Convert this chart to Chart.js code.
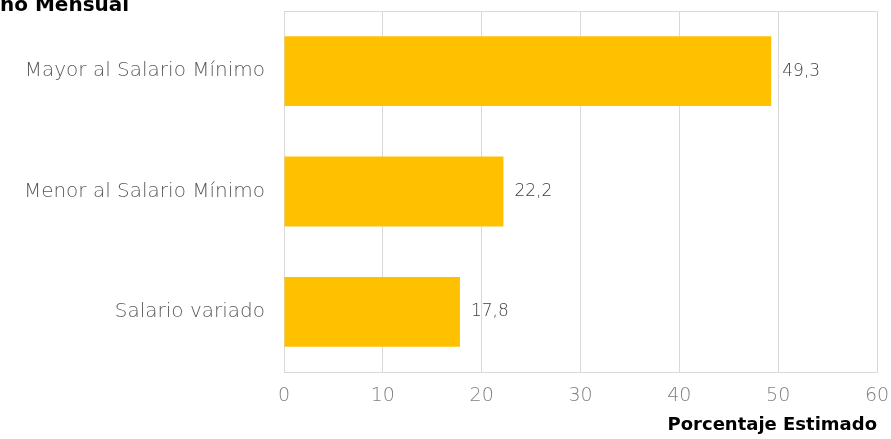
<!DOCTYPE html>
<html>
<head>
<meta charset="utf-8">
<script src="https://cdn.jsdelivr.net/npm/chart.js@4"></script>
<style>
  html, body { margin: 0; padding: 0; background: #fff; }
  #wrap { position: relative; width: 891px; height: 439px; overflow: hidden; }
  #grafico { display: block; }
  #titulo {
    position: absolute; left: 0; top: -8px; white-space: nowrap;
    font-family: "DejaVu Sans", sans-serif; font-weight: 700; font-size: 20px; color: #000;
  }
</style>
</head>
<body>
<div id="wrap">
  <canvas id="grafico" width="891" height="439"></canvas>
  <div id="titulo">no Mensual</div>
</div>
<script>
const categorias = ["Mayor al Salario Mínimo", "Menor al Salario Mínimo", "Salario variado"];
const porcentajes = [49.3, 22.2, 17.8];
const etiquetasX = [0, 10, 20, 30, 40, 50, 60];

const fuenteLigera = "'DejaVu Sans', sans-serif";

// etiquetas de valor al final de cada barra
const valoresPlugin = {
  id: "valores",
  afterDatasetsDraw(chart) {
    const ctx = chart.ctx;
    const meta = chart.getDatasetMeta(0);
    ctx.save();
    ctx.font = "200 17px " + fuenteLigera;
    ctx.fillStyle = "#404040";
    ctx.textAlign = "left";
    ctx.textBaseline = "middle";
    meta.data.forEach((bar, i) => {
      ctx.fillText(porcentajes[i].toFixed(1).replace(".", ","), bar.x + 11, bar.y);
    });
    ctx.restore();
  }
};

// marco gris del área de trazado
const marcoPlugin = {
  id: "marco",
  beforeDatasetsDraw(chart) {
    const a = chart.chartArea;
    const ctx = chart.ctx;
    ctx.save();
    ctx.strokeStyle = "#d9d9d9";
    ctx.lineWidth = 1;
    ctx.strokeRect(Math.round(a.left) + 0.5, Math.round(a.top) + 0.5, Math.round(a.right - a.left), Math.round(a.bottom - a.top));
    ctx.restore();
  }
};

new Chart(document.getElementById("grafico"), {
  type: "bar",
  data: {
    labels: categorias,
    datasets: [{
      data: porcentajes,
      backgroundColor: "#FFC000",
      borderWidth: 0,
      barPercentage: 0.58,
      categoryPercentage: 1
    }]
  },
  options: {
    indexAxis: "y",
    responsive: false,
    animation: false,
    layout: { padding: { left: 0, right: 14, top: 11, bottom: 0 } },
    plugins: { legend: { display: false }, tooltip: { enabled: false } },
    scales: {
      x: {
        min: 0,
        max: 60,
        afterBuildTicks(scale) { scale.ticks = etiquetasX.map(v => ({ value: v })); },
        afterFit(scale) {
          scale.height = 67;
          scale.paddingLeft = 0;
          scale.paddingRight = 0;
        },
        grid: { color: "#d9d9d9", drawTicks: false },
        border: { display: false },
        ticks: {
          padding: 13,
          color: "#7f7f7f",
          font: { family: fuenteLigera, size: 19, weight: 200 }
        },
        title: {
          display: true,
          text: "Porcentaje Estimado",
          align: "end",
          color: "#000",
          padding: { top: 0, bottom: 3 },
          font: { family: "'DejaVu Sans', sans-serif", size: 18, weight: 700 }
        }
      },
      y: {
        afterFit(scale) {
          scale.width = 284;
          scale.paddingTop = 0;
          scale.paddingBottom = 0;
        },
        grid: { display: false, drawTicks: false },
        border: { display: false },
        ticks: {
          padding: 19,
          color: "#595959",
          font: { family: fuenteLigera, size: 20, weight: 200 }
        }
      }
    }
  },
  plugins: [marcoPlugin, valoresPlugin]
});
</script>
</body>
</html>
